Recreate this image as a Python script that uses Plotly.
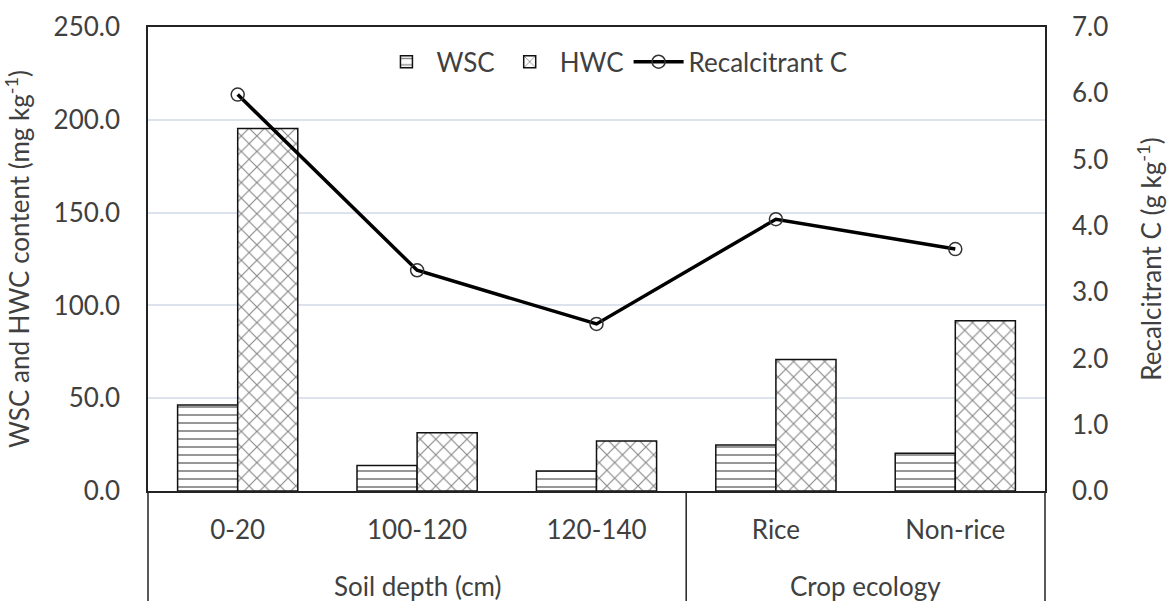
import plotly.graph_objects as go

categories = ["0-20", "100-120", "120-140", "Rice", "Non-rice"]
groups = ["Soil depth (cm)", "Crop ecology"]
wsc = [46.3, 13.8, 10.8, 24.8, 20.3]
hwc = [195.3, 31.4, 26.9, 70.9, 91.7]
recalcitrant = [5.98, 3.33, 2.52, 4.10, 3.65]

FONT = "Lato"
TXT = "#404040"
FS = 26

fig = go.Figure()
fig.add_trace(go.Bar(
    x=categories, y=wsc, name="WSC",
    marker=dict(color="white", line=dict(color="#111", width=1.5),
                pattern=dict(shape="-", fgcolor="#111", bgcolor="white", size=8, solidity=0.22)),
))
fig.add_trace(go.Bar(
    x=categories, y=hwc, name="HWC",
    marker=dict(color="white", line=dict(color="#111", width=1.5),
                pattern=dict(shape="x", fgcolor="#111", bgcolor="white", size=11, solidity=0.2)),
))
fig.add_trace(go.Scatter(
    x=categories, y=recalcitrant, name="Recalcitrant C", yaxis="y2",
    mode="lines+markers",
    line=dict(color="black", width=3.5),
    marker=dict(symbol="circle-open", size=13, color="#333", line=dict(width=1.5)),
))

fig.update_layout(
    width=1167, height=601,
    margin=dict(l=148, r=122, t=27, b=110, autoexpand=False),
    paper_bgcolor="white", plot_bgcolor="white",
    font=dict(family=FONT, size=FS, color=TXT),
    barmode="group", bargap=0.33, bargroupgap=0,
    showlegend=True,
    legend=dict(orientation="h", x=0.52, xanchor="center", y=0.925, yanchor="middle",
                bgcolor="rgba(0,0,0,0)", font=dict(size=FS, color=TXT),
                tracegroupgap=0, itemwidth=50),
    xaxis=dict(type="category", categoryorder="array", categoryarray=categories,
               range=[-0.5, 4.5], showline=True, linecolor="#222", linewidth=1.5,
               mirror=True, ticks="", ticklabelstandoff=15, showgrid=False,
               automargin=False, tickfont=dict(size=FS, color=TXT)),
    yaxis=dict(range=[0, 250], dtick=50, tickformat=".1f", showgrid=True,
               gridcolor="#dde3ec", gridwidth=1.5, zeroline=False,
               showline=True, linecolor="#222", linewidth=1.5, ticks="",
               ticklabelstandoff=21, automargin=False,
               title=dict(text="WSC and HWC content (mg kg<sup>-1</sup>)",
                          font=dict(size=FS, color=TXT), standoff=24)),
    yaxis2=dict(range=[0, 7], dtick=1, tickformat=".1f", overlaying="y", side="right",
                showgrid=False, zeroline=False, showline=True, linecolor="#222",
                linewidth=1.5, ticks="", ticklabelstandoff=20, automargin=False,
                title=dict(text="Recalcitrant C (g kg<sup>-1</sup>)",
                           font=dict(size=FS, color=TXT), standoff=36)),
)

# group divider lines below the axis
for xv, xr in [(0, "paper"), (1, "paper"), (2.5, "x")]:
    fig.add_shape(type="line", xref=xr, yref="paper", x0=xv, x1=xv, y0=0, y1=-0.26,
                  line=dict(color="#222", width=1.5))

group_pos = [1, 3.5]
for g, xp in zip(groups, group_pos):
    fig.add_annotation(text=g, x=xp, xref="x", y=-0.205, yref="paper",
                       showarrow=False, yanchor="middle",
                       font=dict(size=FS, color=TXT, family=FONT))

fig.write_html("out.html", config={"displayModeBar": False},
               post_script="document.body.style.margin='0';document.body.style.overflow='hidden';")
